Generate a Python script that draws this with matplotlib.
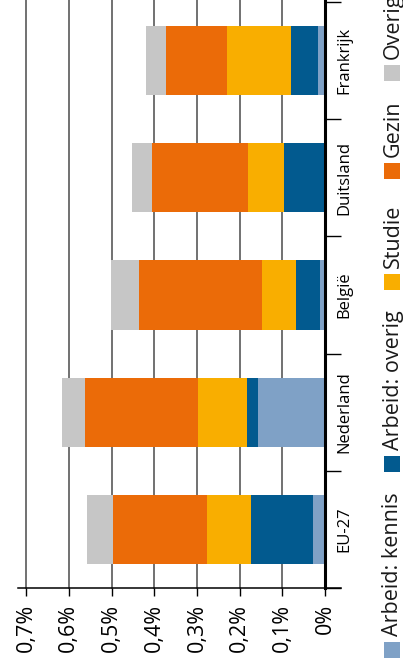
import matplotlib
matplotlib.use("Agg")
import matplotlib.pyplot as plt
from matplotlib.patches import Rectangle
import numpy as np

plt.rcParams['font.family'] = ['Open Sans', 'DejaVu Sans']

# ===== data (percentages) =====
landen = ["EU-27", "Nederland", "België", "Duitsland", "Frankrijk"]
reeksen = ["Arbeid: kennis", "Arbeid: overig", "Studie", "Gezin", "Overig"]
arbeid_kennis = [0.028, 0.157, 0.012, 0.000, 0.016]
arbeid_overig = [0.145, 0.026, 0.056, 0.096, 0.063]
studie = [0.103, 0.115, 0.080, 0.084, 0.150]
gezin = [0.220, 0.265, 0.288, 0.225, 0.143]
overig = [0.061, 0.052, 0.066, 0.047, 0.047]
x_ticks = [0.0, 0.1, 0.2, 0.3, 0.4, 0.5, 0.6, 0.7]
x_labels = ["0%", "0,1%", "0,2%", "0,3%", "0,4%", "0,5%", "0,6%", "0,7%"]

kleuren = ["#7fa1c6", "#025a8f", "#f9ae00", "#eb6b08", "#c6c6c6"]

W, H = 403, 667
fig = plt.figure(figsize=(W / 100, H / 100), dpi=100)
ax = fig.add_axes([18 / W, 79 / H, 323 / W, 586 / H])

y = np.arange(len(landen))
links = np.zeros(len(landen))
for naam, waarden, kleur in zip(reeksen, [arbeid_kennis, arbeid_overig, studie, gezin, overig], kleuren):
    ax.barh(y, waarden, left=links, height=0.59, color=kleur, linewidth=0, zorder=2)
    links += np.array(waarden)

ax.set_xlim(0.719, -0.0375)
ax.set_ylim(-0.5, len(landen) - 0.5)

# gridlines + zero line
for t in x_ticks[1:]:
    ax.axvline(t, color="#4a4a4a", linewidth=1.1, zorder=1, clip_on=False, ymax=1.004)
ax.axvline(0, color="black", linewidth=2.2, zorder=3, clip_on=False, ymax=1.004)

ax.set_xticks(x_ticks)
ax.set_xticklabels(x_labels, rotation=90, fontsize=15.5)
ax.tick_params(axis="x", length=5.5, width=1, color="black", pad=6)

ax.yaxis.tick_right()
ax.set_yticks(y)
ax.set_yticklabels(landen, rotation=90, va="center", fontsize=12)
ax.set_yticks(np.arange(-0.5, len(landen)), minor=True)
ax.tick_params(axis="y", which="major", length=0, pad=-3)
ax.tick_params(axis="y", which="minor", direction="in", length=11.5, width=1, color="black")

for s in ["left", "right", "top"]:
    ax.spines[s].set_visible(False)
ax.spines["bottom"].set_linewidth(1.1)

# ===== legend, rotated (marker positions in pixels from bottom) =====
legend_pos = [9, 195, 377, 488, 586]
for naam, kleur, p in zip(reeksen, kleuren, legend_pos):
    fig.patches.append(Rectangle((384 / W, p / H), 16 / W, 16 / H,
                                 transform=fig.transFigure, color=kleur, linewidth=0))
    fig.text(393 / W, (p + 22) / H, naam, rotation=90, ha="center", va="bottom",
             fontsize=15.5, color="#1a1a1a")

fig.savefig("out.png", dpi=100)
